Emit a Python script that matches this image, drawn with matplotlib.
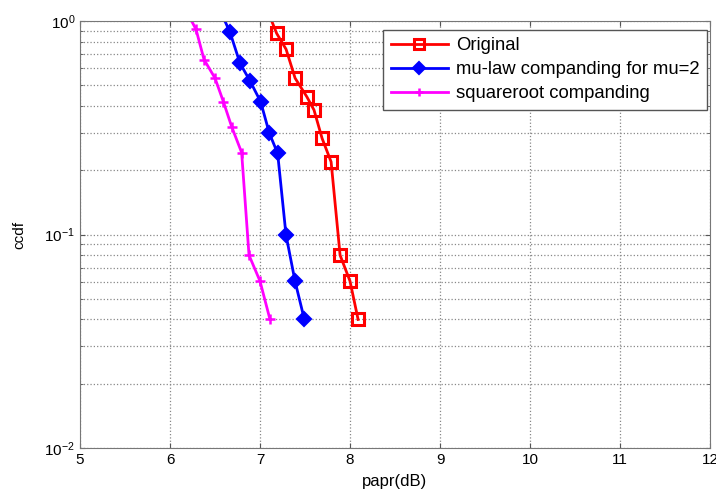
import numpy as np
import matplotlib
matplotlib.use("Agg")
import matplotlib.pyplot as plt

plt.rcParams['font.family'] = ['Liberation Sans', 'DejaVu Sans']

# CCDF curves (first point lies just above the axis top)
papr_orig = [7.13, 7.185, 7.29, 7.39, 7.52, 7.60, 7.69, 7.79, 7.89, 8.00, 8.09]
ccdf_orig = [1.0, 0.875, 0.737, 0.54, 0.442, 0.383, 0.282, 0.219, 0.080, 0.0605, 0.040]

papr_mu = [6.61, 6.667, 6.778, 6.889, 7.007, 7.104, 7.196, 7.289, 7.389, 7.493]
ccdf_mu = [1.0, 0.885, 0.634, 0.524, 0.419, 0.298, 0.24, 0.0995, 0.0605, 0.040]

papr_sqrt = [6.24, 6.289, 6.378, 6.50, 6.593, 6.685, 6.796, 6.878, 7.00, 7.111]
ccdf_sqrt = [1.0, 0.914, 0.66, 0.54, 0.419, 0.32, 0.242, 0.080, 0.0605, 0.040]

labels = ['Original', 'mu-law companding for mu=2', 'squareroot companding']
xticks = [5, 6, 7, 8, 9, 10, 11, 12]

fig = plt.figure(figsize=(7.16, 4.97), dpi=100)
ax = fig.add_axes([80 / 716, 1 - 448 / 497, 630 / 716, 427 / 497])

ax.semilogy(papr_orig, ccdf_orig, color='#ff0000', lw=2, marker='s', ms=8,
            mfc='none', mew=2.2, markevery=list(range(1, len(papr_orig))), label=labels[0])
ax.semilogy(papr_mu, ccdf_mu, color='#0000ff', lw=2, marker='D', ms=7,
            mfc='#0000ff', mew=1.5, markevery=list(range(1, len(papr_mu))), label=labels[1])
ax.semilogy(papr_sqrt, ccdf_sqrt, color='#ff00ff', lw=2, marker='+', ms=7,
            mew=1.8, markevery=list(range(1, len(papr_sqrt))), label=labels[2])

ax.set_xlim(5, 12)
ax.set_ylim(1e-2, 1)
ax.set_xticks(xticks)
ax.set_xticklabels([str(t) for t in xticks])

ax.grid(True, which='major', linestyle=':', color='#888888', lw=0.9)
ax.grid(True, which='minor', axis='y', linestyle=':', color='#888888', lw=0.9)
ax.tick_params(which='both', direction='in', top=True, right=True, labelsize=11,
               color='#555555')
for s in ax.spines.values():
    s.set_color('#777777')

ax.set_xlabel('papr(dB)', fontsize=12, labelpad=5)
ax.set_ylabel('ccdf', fontsize=11, labelpad=13)

leg = ax.legend(loc='upper right', bbox_to_anchor=(1 - 3 / 630, 1 - 9 / 427), fontsize=13.3,
                handlelength=3.1, handletextpad=0.45, fancybox=False, framealpha=1,
                edgecolor='#555555', borderpad=0.4, labelspacing=0.38, borderaxespad=0,
                markerscale=0.85)
leg.get_frame().set_linewidth(1.0)

fig.savefig('out.png', dpi=100)
